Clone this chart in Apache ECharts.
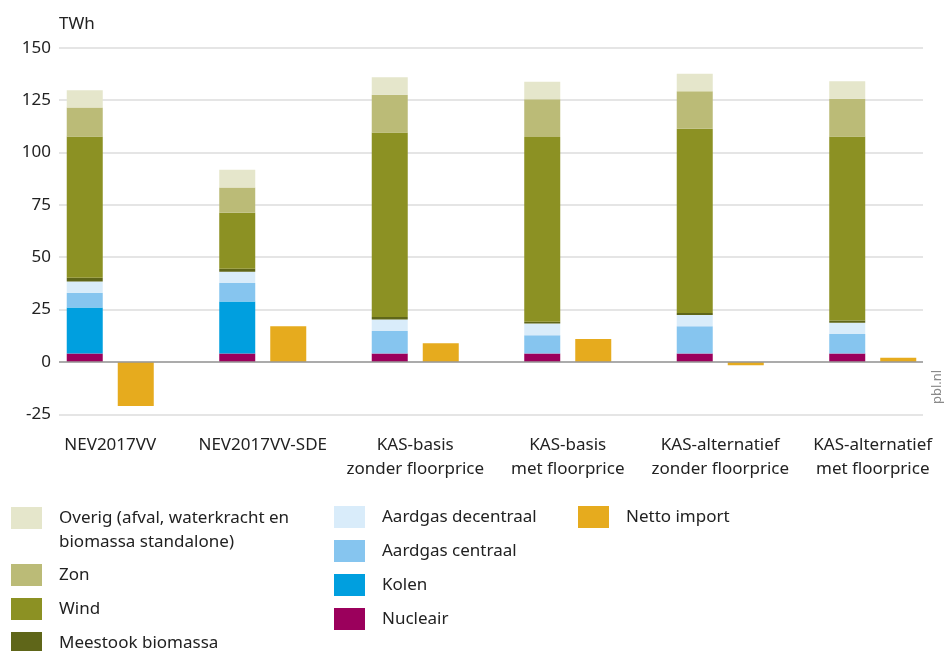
<!DOCTYPE html>
<html>
<head>
<meta charset="utf-8">
<script src="https://cdn.jsdelivr.net/npm/echarts@6/dist/echarts.min.js"></script>
<style>
  html, body { margin: 0; padding: 0; background: #fff; }
  #chart { width: 945px; height: 651px; }
</style>
</head>
<body>
<div id="chart"></div>
<script>
const FONT = "'Noto Sans', sans-serif";

const categories = [
  "NEV2017VV",
  "NEV2017VV-SDE",
  "KAS-basis\nzonder floorprice",
  "KAS-basis\nmet floorprice",
  "KAS-alternatief\nzonder floorprice",
  "KAS-alternatief\nmet floorprice"
];

// TWh per scenario, stacked bottom-up
const nucleair = [4, 4, 4, 4, 4, 4];
const kolen = [22, 24.9, 0, 0, 0, 0];
const aardgasCentraal = [7, 8.8, 10.8, 8.7, 13, 9.3];
const aardgasDecentraal = [5.4, 5.4, 5.5, 5.6, 5.4, 5.4];
const meestookBiomassa = [1.8, 1.4, 1.2, 0.9, 1, 1.1];
const wind = [67.4, 26.7, 88, 88.2, 87.9, 87.8];
const zon = [13.8, 12.1, 18, 18, 17.9, 18];
const overig = [8.3, 8.4, 8.4, 8.4, 8.4, 8.4];
const nettoImport = [-21, 17, 8.9, 11, -1.6, 2];

const yTicks = { min: -25, max: 150, interval: 25 };

const OVERIG = "Overig (afval, waterkracht en biomassa standalone)";

const stackSeries = [
  { name: "Nucleair", data: nucleair, color: "#9b005c" },
  { name: "Kolen", data: kolen, color: "#009fdf" },
  { name: "Aardgas centraal", data: aardgasCentraal, color: "#86c5ef" },
  { name: "Aardgas decentraal", data: aardgasDecentraal, color: "#d9ecfa" },
  { name: "Meestook biomassa", data: meestookBiomassa, color: "#5f6619" },
  { name: "Wind", data: wind, color: "#8c9123" },
  { name: "Zon", data: zon, color: "#bbbb77" },
  { name: OVERIG, data: overig, color: "#e5e6cb" }
];

const series = stackSeries.map((s) => ({
  name: s.name,
  type: "bar",
  stack: "mix",
  xAxisIndex: 1,
  yAxisIndex: 1,
  barWidth: 36,
  barGap: "41.7%",
  itemStyle: { color: s.color },
  data: s.data
}));
series.push({
  name: "Netto import",
  type: "bar",
  xAxisIndex: 1,
  yAxisIndex: 1,
  barWidth: 36,
  barGap: "41.7%",
  itemStyle: { color: "#e6ab1e" },
  data: nettoImport
});

const legendBase = {
  orient: "vertical",
  padding: 0,
  height: 200,
  itemWidth: 31,
  itemHeight: 22,
  itemGap: 12,
  icon: "rect",
  selectedMode: false,
  textStyle: {
    fontFamily: FONT,
    fontSize: 17,
    color: "#222",
    padding: [0, 0, 0, 12]
  }
};

const chart = echarts.init(document.getElementById("chart"));
chart.setOption({
  animation: false,
  textStyle: { fontFamily: FONT },
  grid: [
    { left: 59, right: 22, top: 47.7, bottom: 236.7, outerBoundsMode: "none" },
    { left: 34, right: -4, top: 47.7, bottom: 236.7, outerBoundsMode: "none" }
  ],
  xAxis: [
    {
      gridIndex: 0,
      type: "value",
      min: 0,
      max: 1,
      axisLine: { show: false },
      axisTick: { show: false },
      axisLabel: { show: false },
      splitLine: { show: false }
    },
    {
      gridIndex: 1,
      type: "category",
      data: categories,
      axisLine: { show: false, onZero: false },
      axisTick: { show: false },
      axisLabel: {
        margin: 19,
        fontFamily: FONT,
        fontSize: 17,
        lineHeight: 24,
        color: "#222",
        interval: 0
      }
    }
  ],
  yAxis: [
    {
      gridIndex: 0,
      type: "value",
      min: yTicks.min,
      max: yTicks.max,
      interval: yTicks.interval,
      name: "TWh",
      nameLocation: "end",
      nameGap: 15,
      nameTextStyle: { fontFamily: FONT, fontSize: 17, color: "#222", align: "left" },
      axisLine: { show: false },
      axisTick: { show: false },
      axisLabel: { fontFamily: FONT, fontSize: 17, color: "#222", margin: 8 },
      splitLine: { lineStyle: { color: "#dddddd", width: 1.5 } }
    },
    {
      gridIndex: 1,
      type: "value",
      min: yTicks.min,
      max: yTicks.max,
      interval: yTicks.interval,
      show: false,
      splitLine: { show: false }
    }
  ],
  legend: [
    Object.assign({}, legendBase, {
      left: 11,
      top: 482,
      data: [OVERIG],
      // blank first line keeps the swatch level with the first text line
      formatter: () => "\nOverig (afval, waterkracht en\nbiomassa standalone)",
      textStyle: Object.assign({}, legendBase.textStyle, { lineHeight: 24 })
    }),
    Object.assign({}, legendBase, {
      left: 11,
      top: 564,
      data: ["Zon", "Wind", "Meestook biomassa"]
    }),
    Object.assign({}, legendBase, {
      left: 334,
      top: 506,
      data: ["Aardgas decentraal", "Aardgas centraal", "Kolen", "Nucleair"]
    }),
    Object.assign({}, legendBase, {
      left: 578,
      top: 506,
      data: ["Netto import"]
    })
  ],
  graphic: [
    {
      type: "text",
      x: 937,
      y: 387,
      rotation: Math.PI / 2,
      style: {
        text: "pbl.nl",
        fill: "#8a8a8a",
        font: "13px " + FONT,
        align: "center",
        verticalAlign: "middle"
      }
    }
  ],
  series: series.concat([
    {
      type: "line",
      xAxisIndex: 0,
      yAxisIndex: 0,
      silent: true,
      symbol: "none",
      data: [],
      markLine: {
        silent: true,
        symbol: "none",
        label: { show: false },
        lineStyle: { color: "#999", width: 1.5, type: "solid" },
        data: [{ yAxis: 0 }]
      }
    }
  ])
});
</script>
</body>
</html>
